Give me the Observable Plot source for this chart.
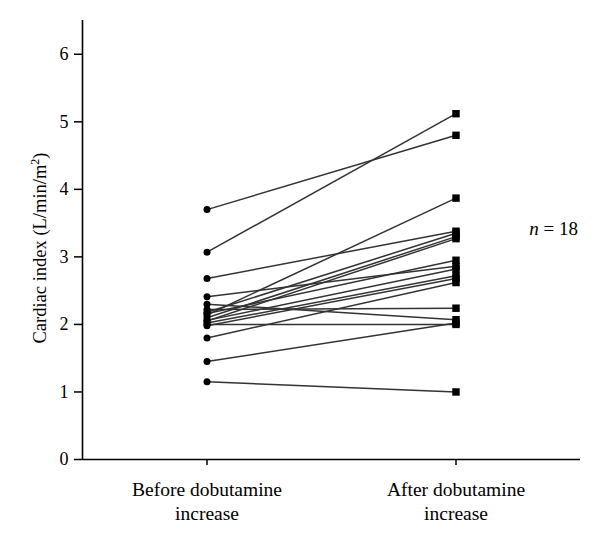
<!DOCTYPE html>
<html>
<head>
<meta charset="utf-8">
<script src="https://cdn.jsdelivr.net/npm/d3@7"></script>
<script src="https://cdn.jsdelivr.net/npm/@observablehq/plot@0.6"></script>
<style>
  html, body { margin: 0; padding: 0; background: white; }
</style>
</head>
<body>
<div id="chart"></div>
<script>
// Category labels (x axis)
const groups = ["Before dobutamine\nincrease", "After dobutamine\nincrease"];
// Cardiac index per patient (L/min/m²)
const before = [3.70, 3.07, 2.68, 2.41, 2.30, 2.22, 2.18, 2.14, 2.16, 2.10, 2.06, 2.05, 2.02, 1.98, 2.00, 1.80, 1.45, 1.15];
const after  = [4.80, 5.12, 3.38, 2.86, 2.07, 2.24, 3.35, 3.87, 2.95, 3.30, 2.82, 3.27, 2.72, 2.68, 2.00, 2.62, 2.02, 1.00];
const yTicks = [0, 1, 2, 3, 4, 5, 6];
const yLabel = "Cardiac index (L/min/m";
const nLabel = "18";

const data = before.map((b, i) => ({id: i, before: b, after: after[i]}));

const chart = Plot.plot({
  width: 600,
  height: 542,
  marginLeft: 82,
  marginRight: 20,
  marginTop: 20,
  marginBottom: 83,
  style: {fontFamily: "Liberation Serif", fontSize: "18px", color: "black", background: "white"},
  x: {domain: [-0.5, 1.5], axis: null},
  y: {domain: [0, 6.5], axis: null},
  marks: [
    Plot.axisY({ticks: yTicks, tickFormat: d3.format("d"), tickSize: 8, tickPadding: 6, label: null, fontSize: 18, strokeWidth: 1.5}),
    Plot.axisX({ticks: [0, 1], tickFormat: i => groups[i], tickSize: 6, tickPadding: 14, label: null, lineHeight: 1.2, fontSize: 19.5, strokeWidth: 1.5}),
    Plot.ruleX([-0.5], {strokeWidth: 1.6, stroke: "black"}),
    Plot.ruleY([0], {strokeWidth: 1.6, stroke: "black"}),
    Plot.link(data, {x1: () => 0, x2: () => 1, y1: "before", y2: "after", stroke: "#333", strokeWidth: 1.5}),
    Plot.dot(data, {x: () => 0, y: "before", r: 3.5, fill: "black", stroke: "none"}),
    Plot.dot(data, {x: () => 1, y: "after", symbol: "square", r: 4.2, fill: "black", stroke: "none"})
  ]
});

const svg = d3.select(chart);
const yl = svg.append("text")
  .attr("transform", "translate(46,248) rotate(-90)")
  .attr("text-anchor", "middle")
  .attr("font-family", "Liberation Serif")
  .attr("font-size", 18.5)
  .attr("fill", "black");
yl.append("tspan").text(yLabel);
yl.append("tspan").attr("font-size", 12).attr("dy", "-0.6em").text("2");
yl.append("tspan").attr("dy", "0.4em").text(")");

const yScale = chart.scale("y");
const nt = svg.append("text")
  .attr("x", 578)
  .attr("y", yScale.apply(3.42))
  .attr("dy", "0.35em")
  .attr("text-anchor", "end")
  .attr("font-family", "Liberation Serif")
  .attr("font-size", 19)
  .attr("fill", "black");
nt.append("tspan").attr("font-style", "italic").text("n");
nt.append("tspan").text(" = " + nLabel);

document.getElementById("chart").appendChild(chart);
</script>
</body>
</html>
